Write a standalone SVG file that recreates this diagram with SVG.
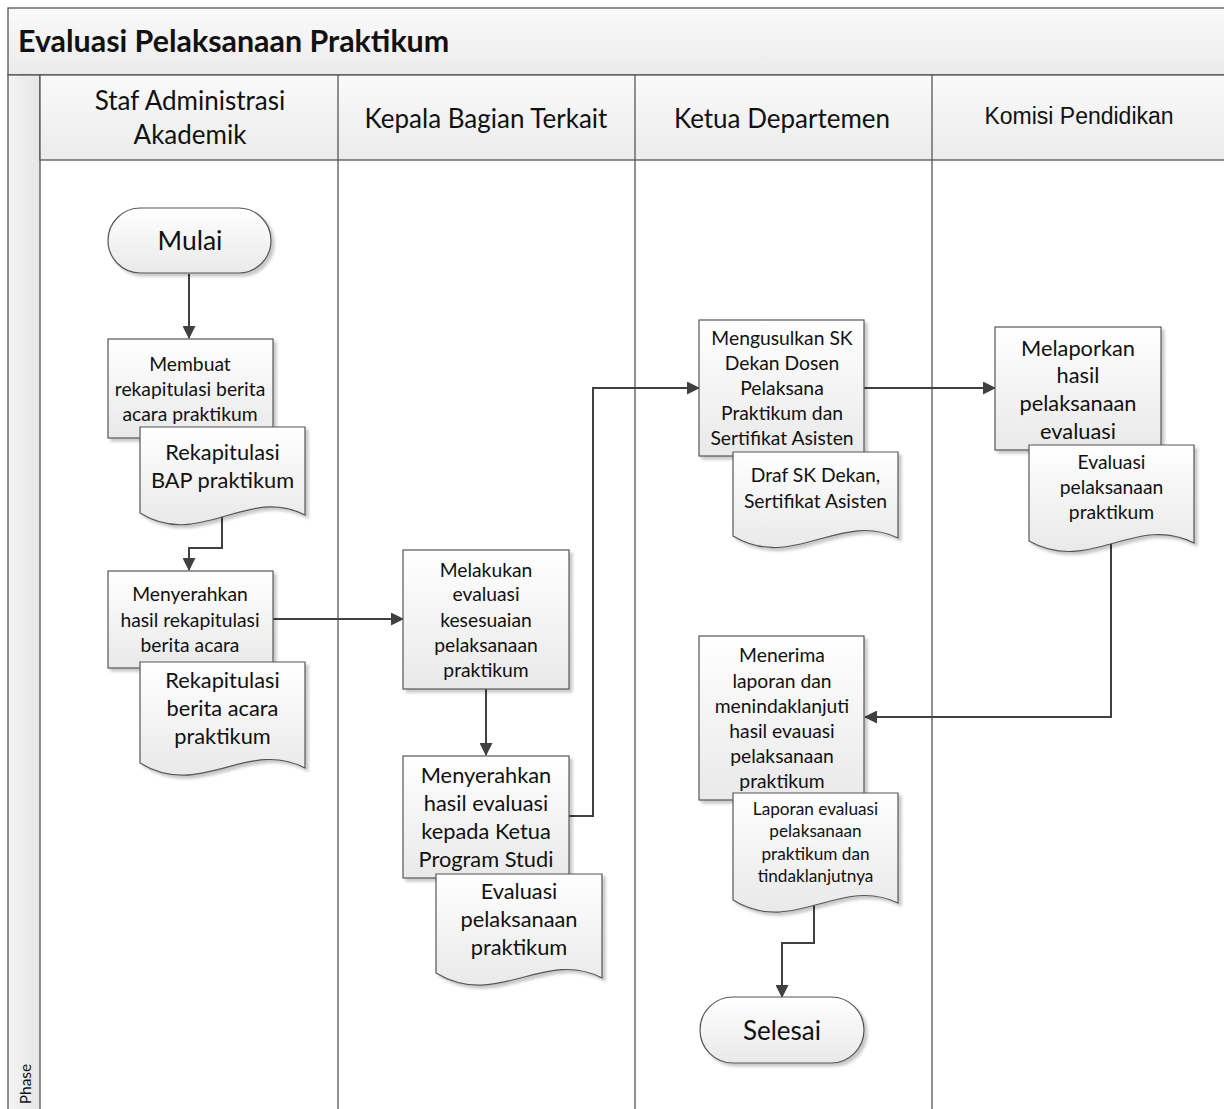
<svg xmlns="http://www.w3.org/2000/svg" width="1224" height="1109" viewBox="0 0 1224 1109">
<defs>
<linearGradient id="gShape" x1="0" y1="0" x2="0" y2="1"><stop offset="0" stop-color="#ffffff"/><stop offset="1" stop-color="#e9e9e9"/></linearGradient>
<linearGradient id="gHead" x1="0" y1="0" x2="0" y2="1"><stop offset="0" stop-color="#fafafa"/><stop offset="1" stop-color="#ebebeb"/></linearGradient>
<linearGradient id="gPhase" x1="0" y1="0" x2="1" y2="0"><stop offset="0" stop-color="#f4f4f4"/><stop offset="1" stop-color="#e6e6e6"/></linearGradient>
<filter id="sh" x="-10%" y="-10%" width="130%" height="130%"><feDropShadow dx="3" dy="3" stdDeviation="1.5" flood-color="#000" flood-opacity="0.22"/></filter>
<marker id="arr" viewBox="0 0 13 13" refX="12" refY="6.5" markerWidth="13" markerHeight="13" markerUnits="userSpaceOnUse" orient="auto"><path d="M0,0 L13,6.5 L0,13 z" fill="#404040"/></marker>
</defs>
<style>
.shape{fill:url(#gShape);stroke:#555;stroke-width:1.2;filter:url(#sh)}
.t{font-family:Lato,"Liberation Sans",sans-serif;fill:#111;text-anchor:middle}
.s17{font-size:19.3px}
.s20{font-size:21.8px}
.s15{font-size:17.2px}
.s23{font-size:26px}
.conn{fill:none;stroke:#404040;stroke-width:2}
</style>
<rect width="1224" height="1109" fill="#fff"/>
<g id="pool">
<rect x="8" y="8" width="1230" height="67" fill="url(#gHead)" stroke="#555" stroke-width="1.3"/>
<text x="18" y="52" font-family="Lato,'Liberation Sans',sans-serif" font-weight="bold" font-size="30.4px" fill="#111">Evaluasi Pelaksanaan Praktikum</text>
<rect x="8" y="75" width="32" height="1040" fill="url(#gPhase)" stroke="#555" stroke-width="1.3"/>
<text transform="translate(31,1084) rotate(-90)" font-family="Lato,'Liberation Sans',sans-serif" font-size="15.5px" fill="#111" text-anchor="middle">Phase</text>
<rect x="40" y="75" width="1190" height="85" fill="url(#gHead)" stroke="#555" stroke-width="1.3"/>
<line x1="338" y1="75" x2="338" y2="1109" stroke="#555" stroke-width="1.3"/>
<line x1="635" y1="75" x2="635" y2="1109" stroke="#555" stroke-width="1.3"/>
<line x1="932" y1="75" x2="932" y2="1109" stroke="#555" stroke-width="1.3"/>
<text class="t s23" x="190" y="110">Staf Administrasi</text>
<text class="t s23" x="190" y="144">Akademik</text>
<text class="t s23" x="486" y="128">Kepala Bagian Terkait</text>
<text class="t s23" x="782" y="128">Ketua Departemen</text>
<text x="1079" y="124" font-family="'Liberation Sans',Arial,sans-serif" font-size="23px" fill="#111" text-anchor="middle">Komisi Pendidikan</text>
</g>
<g id="connectors">
<path class="conn" d="M189,274 V338" marker-end="url(#arr)"/>
<path class="conn" d="M222,505 V548 H189 V570" marker-end="url(#arr)"/>
<path class="conn" d="M273,619 H403" marker-end="url(#arr)"/>
<path class="conn" d="M486,689 V755" marker-end="url(#arr)"/>
<path class="conn" d="M569,816 H593 V388 H699" marker-end="url(#arr)"/>
<path class="conn" d="M864,388 H995" marker-end="url(#arr)"/>
<path class="conn" d="M1111,535 V717 H865" marker-end="url(#arr)"/>
<path class="conn" d="M814,895 V943 H782 V997" marker-end="url(#arr)"/>
</g>
<g id="n-mulai">
<rect class="shape" x="108" y="208" width="163" height="65" rx="32.5"/>
<text class="t" font-size="26.5px" x="190" y="250">Mulai</text>
</g>
<g id="n-membuat">
<rect class="shape" x="108" y="339" width="165" height="99"/>
<text class="t s17" x="190" y="371">Membuat</text>
<text class="t s17" x="190" y="396">rekapitulasi berita</text>
<text class="t s17" x="190" y="421">acara praktikum</text>
</g>
<g id="d-rekap-bap">
<path class="shape" d="M140,427 H305 V515 C247,485 200,550 140,513 Z"/>
<text class="t s20" x="222.5" y="460">Rekapitulasi</text>
<text class="t s20" x="222.5" y="488">BAP praktikum</text>
</g>
<g id="n-menyerahkan-rekap">
<rect class="shape" x="108" y="571" width="165" height="97"/>
<text class="t s17" x="190" y="601">Menyerahkan</text>
<text class="t s17" x="190" y="627">hasil rekapitulasi</text>
<text class="t s17" x="190" y="652">berita acara</text>
</g>
<g id="d-rekap-berita">
<path class="shape" d="M140,662 H305 V768 C247,738 200,800 140,763 Z"/>
<text class="t s20" x="222.5" y="688">Rekapitulasi</text>
<text class="t s20" x="222.5" y="716">berita acara</text>
<text class="t s20" x="222.5" y="744">praktikum</text>
</g>
<g id="n-melakukan">
<rect class="shape" x="403" y="550" width="166" height="139"/>
<text class="t s17" x="486" y="577">Melakukan</text>
<text class="t s17" x="486" y="601">evaluasi</text>
<text class="t s17" x="486" y="627">kesesuaian</text>
<text class="t s17" x="486" y="652">pelaksanaan</text>
<text class="t s17" x="486" y="677">praktikum</text>
</g>
<g id="n-menyerahkan-eval">
<rect class="shape" x="403" y="756" width="166" height="122"/>
<text class="t s20" x="486" y="783">Menyerahkan</text>
<text class="t s20" x="486" y="811">hasil evaluasi</text>
<text class="t s20" x="486" y="839">kepada Ketua</text>
<text class="t s20" x="486" y="867">Program Studi</text>
</g>
<g id="d-evaluasi-kepala">
<path class="shape" d="M436,874 H602 V978 C544,948 497,1010 436,973 Z"/>
<text class="t s20" x="519" y="899">Evaluasi</text>
<text class="t s20" x="519" y="927">pelaksanaan</text>
<text class="t s20" x="519" y="955">praktikum</text>
</g>
<g id="n-mengusulkan">
<rect class="shape" x="699" y="320" width="165" height="136"/>
<text class="t s17" x="782" y="345">Mengusulkan SK</text>
<text class="t s17" x="782" y="370">Dekan Dosen</text>
<text class="t s17" x="782" y="395">Pelaksana</text>
<text class="t s17" x="782" y="420">Praktikum dan</text>
<text class="t s17" x="782" y="445">Sertifikat Asisten</text>
</g>
<g id="d-draf-sk">
<path class="shape" d="M733,452 H898 V538 C840,510 793,572 733,536 Z"/>
<text class="t s17" x="815.5" y="482">Draf SK Dekan,</text>
<text class="t s17" x="815.5" y="508">Sertifikat Asisten</text>
</g>
<g id="n-melaporkan">
<rect class="shape" x="995" y="327" width="166" height="123"/>
<text class="t s20" x="1078" y="356">Melaporkan</text>
<text class="t s20" x="1078" y="383">hasil</text>
<text class="t s20" x="1078" y="411">pelaksanaan</text>
<text class="t s20" x="1078" y="439">evaluasi</text>
</g>
<g id="d-evaluasi-komisi">
<path class="shape" d="M1029,445 H1194 V543 C1136,513 1089,575 1029,541 Z"/>
<text class="t s17" x="1111.5" y="469">Evaluasi</text>
<text class="t s17" x="1111.5" y="494">pelaksanaan</text>
<text class="t s17" x="1111.5" y="519">praktikum</text>
</g>
<g id="n-menerima">
<rect class="shape" x="699" y="636" width="165" height="164"/>
<text class="t s17" x="782" y="662">Menerima</text>
<text class="t s17" x="782" y="688">laporan dan</text>
<text class="t s17" x="782" y="713">menindaklanjuti</text>
<text class="t s17" x="782" y="738">hasil evauasi</text>
<text class="t s17" x="782" y="763">pelaksanaan</text>
<text class="t s17" x="782" y="788">praktikum</text>
</g>
<g id="d-laporan">
<path class="shape" d="M733,793 H898 V903 C840,875 793,937 733,900 Z"/>
<text class="t s15" x="815.5" y="815">Laporan evaluasi</text>
<text class="t s15" x="815.5" y="837">pelaksanaan</text>
<text class="t s15" x="815.5" y="860">praktikum dan</text>
<text class="t s15" x="815.5" y="882">tindaklanjutnya</text>
</g>
<g id="n-selesai">
<rect class="shape" x="700" y="997" width="164" height="66" rx="33"/>
<text class="t" font-size="26px" x="782" y="1040">Selesai</text>
</g>
</svg>
